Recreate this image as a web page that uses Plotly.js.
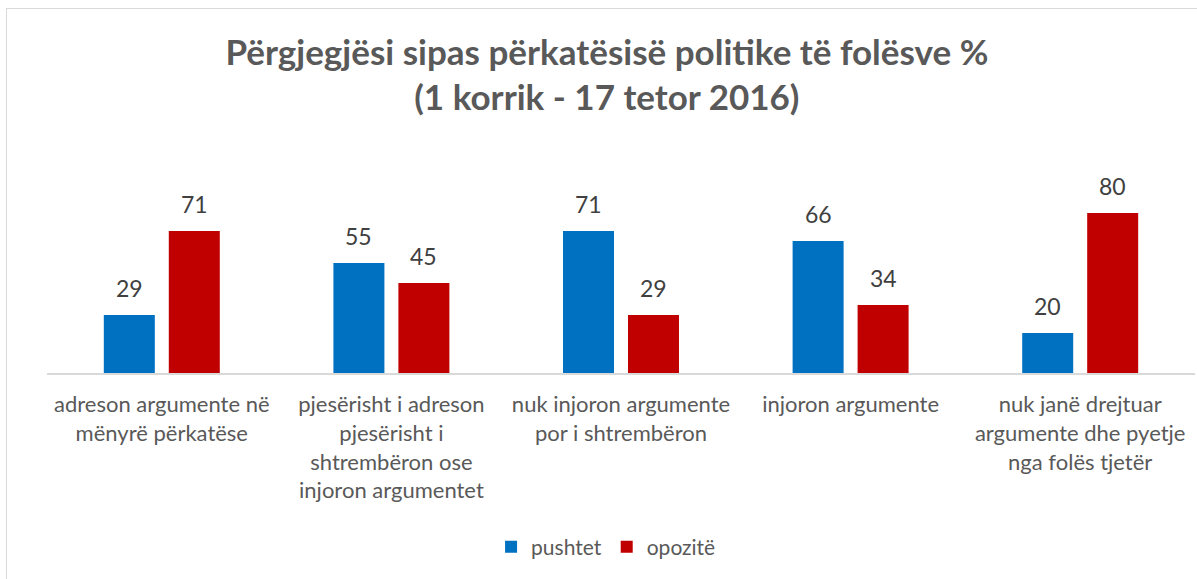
<!DOCTYPE html>
<html>
<head>
<meta charset="utf-8">
<script src="https://cdn.plot.ly/plotly-3.0.1.min.js"></script>
<style>
  html, body { margin: 0; padding: 0; background: #fff; }
  #chart { position: absolute; left: 0; top: 0; width: 1197px; height: 579px; }
  #frame { position: absolute; left: 6px; top: 8px; width: 1200px; height: 600px;
           border-left: 1px solid #D9D9D9; border-top: 1px solid #D9D9D9; pointer-events: none; }
</style>
</head>
<body>
<div id="chart"></div>
<div id="frame"></div>
<script>
const categories = [
  "adreson argumente në<br>mënyrë përkatëse",
  "pjesërisht i adreson<br>pjesërisht i<br>shtrembëron ose<br>injoron argumentet",
  "nuk injoron argumente<br>por i shtrembëron",
  "injoron argumente",
  "nuk janë drejtuar<br>argumente dhe pyetje<br>nga folës tjetër"
];
const seriesNames = ["pushtet", "opozitë"];
const pushtet = [29, 55, 71, 66, 20];
const opozite = [71, 45, 29, 34, 80];
const titleLines = ["Përgjegjësi sipas përkatësisë politike të folësve %", "(1 korrik - 17 tetor 2016)"];

const FONT = "Lato, 'Open Sans', sans-serif";
const colors = ["#0070C0", "#C00000"];

const traces = [pushtet, opozite].map((vals, i) => ({
  type: "bar",
  name: seriesNames[i],
  x: categories,
  y: vals,
  marker: { color: colors[i] },
  hoverinfo: "skip"
}));

const annotations = [];
[pushtet, opozite].forEach((vals, i) => {
  vals.forEach((v, j) => {
    annotations.push({
      x: categories[j], y: v, xref: "x", yref: "y",
      text: String(v), showarrow: false,
      xshift: i === 0 ? -32.5 : 32.5,
      yanchor: "bottom", yshift: 11,
      font: { family: FONT, size: 23, color: "#404040" }
    });
  });
});

const layout = {
  width: 1197, height: 579,
  margin: { l: 47, r: 2, t: 193, b: 206 },
  paper_bgcolor: "rgba(0,0,0,0)",
  plot_bgcolor: "rgba(0,0,0,0)",
  title: {
    text: "<b>" + titleLines[0] + "<br>" + titleLines[1] + "</b>",
    font: { family: FONT, size: 35, color: "#595959" },
    x: 0.507, xanchor: "center", y: 0.888, yanchor: "top"
  },
  barmode: "group",
  bargap: 0.434,
  bargroupgap: 0.215,
  xaxis: {
    showline: true, linecolor: "#D9D9D9", linewidth: 2,
    ticks: "", showgrid: false, zeroline: false,
    tickfont: { family: FONT, size: 22, color: "#595959" },
    ticklabelstandoff: 11,
    fixedrange: true
  },
  yaxis: {
    range: [0, 90], visible: false, showgrid: false, zeroline: false, fixedrange: true
  },
  showlegend: true,
  legend: {
    orientation: "h", x: 0.487, xanchor: "center", y: -0.967, yanchor: "middle",
    font: { family: FONT, size: 21, color: "#595959" },
    itemclick: false, itemdoubleclick: false
  },
  annotations: annotations
};

Plotly.newPlot("chart", traces, layout, { staticPlot: true, displayModeBar: false });
</script>
</body>
</html>
